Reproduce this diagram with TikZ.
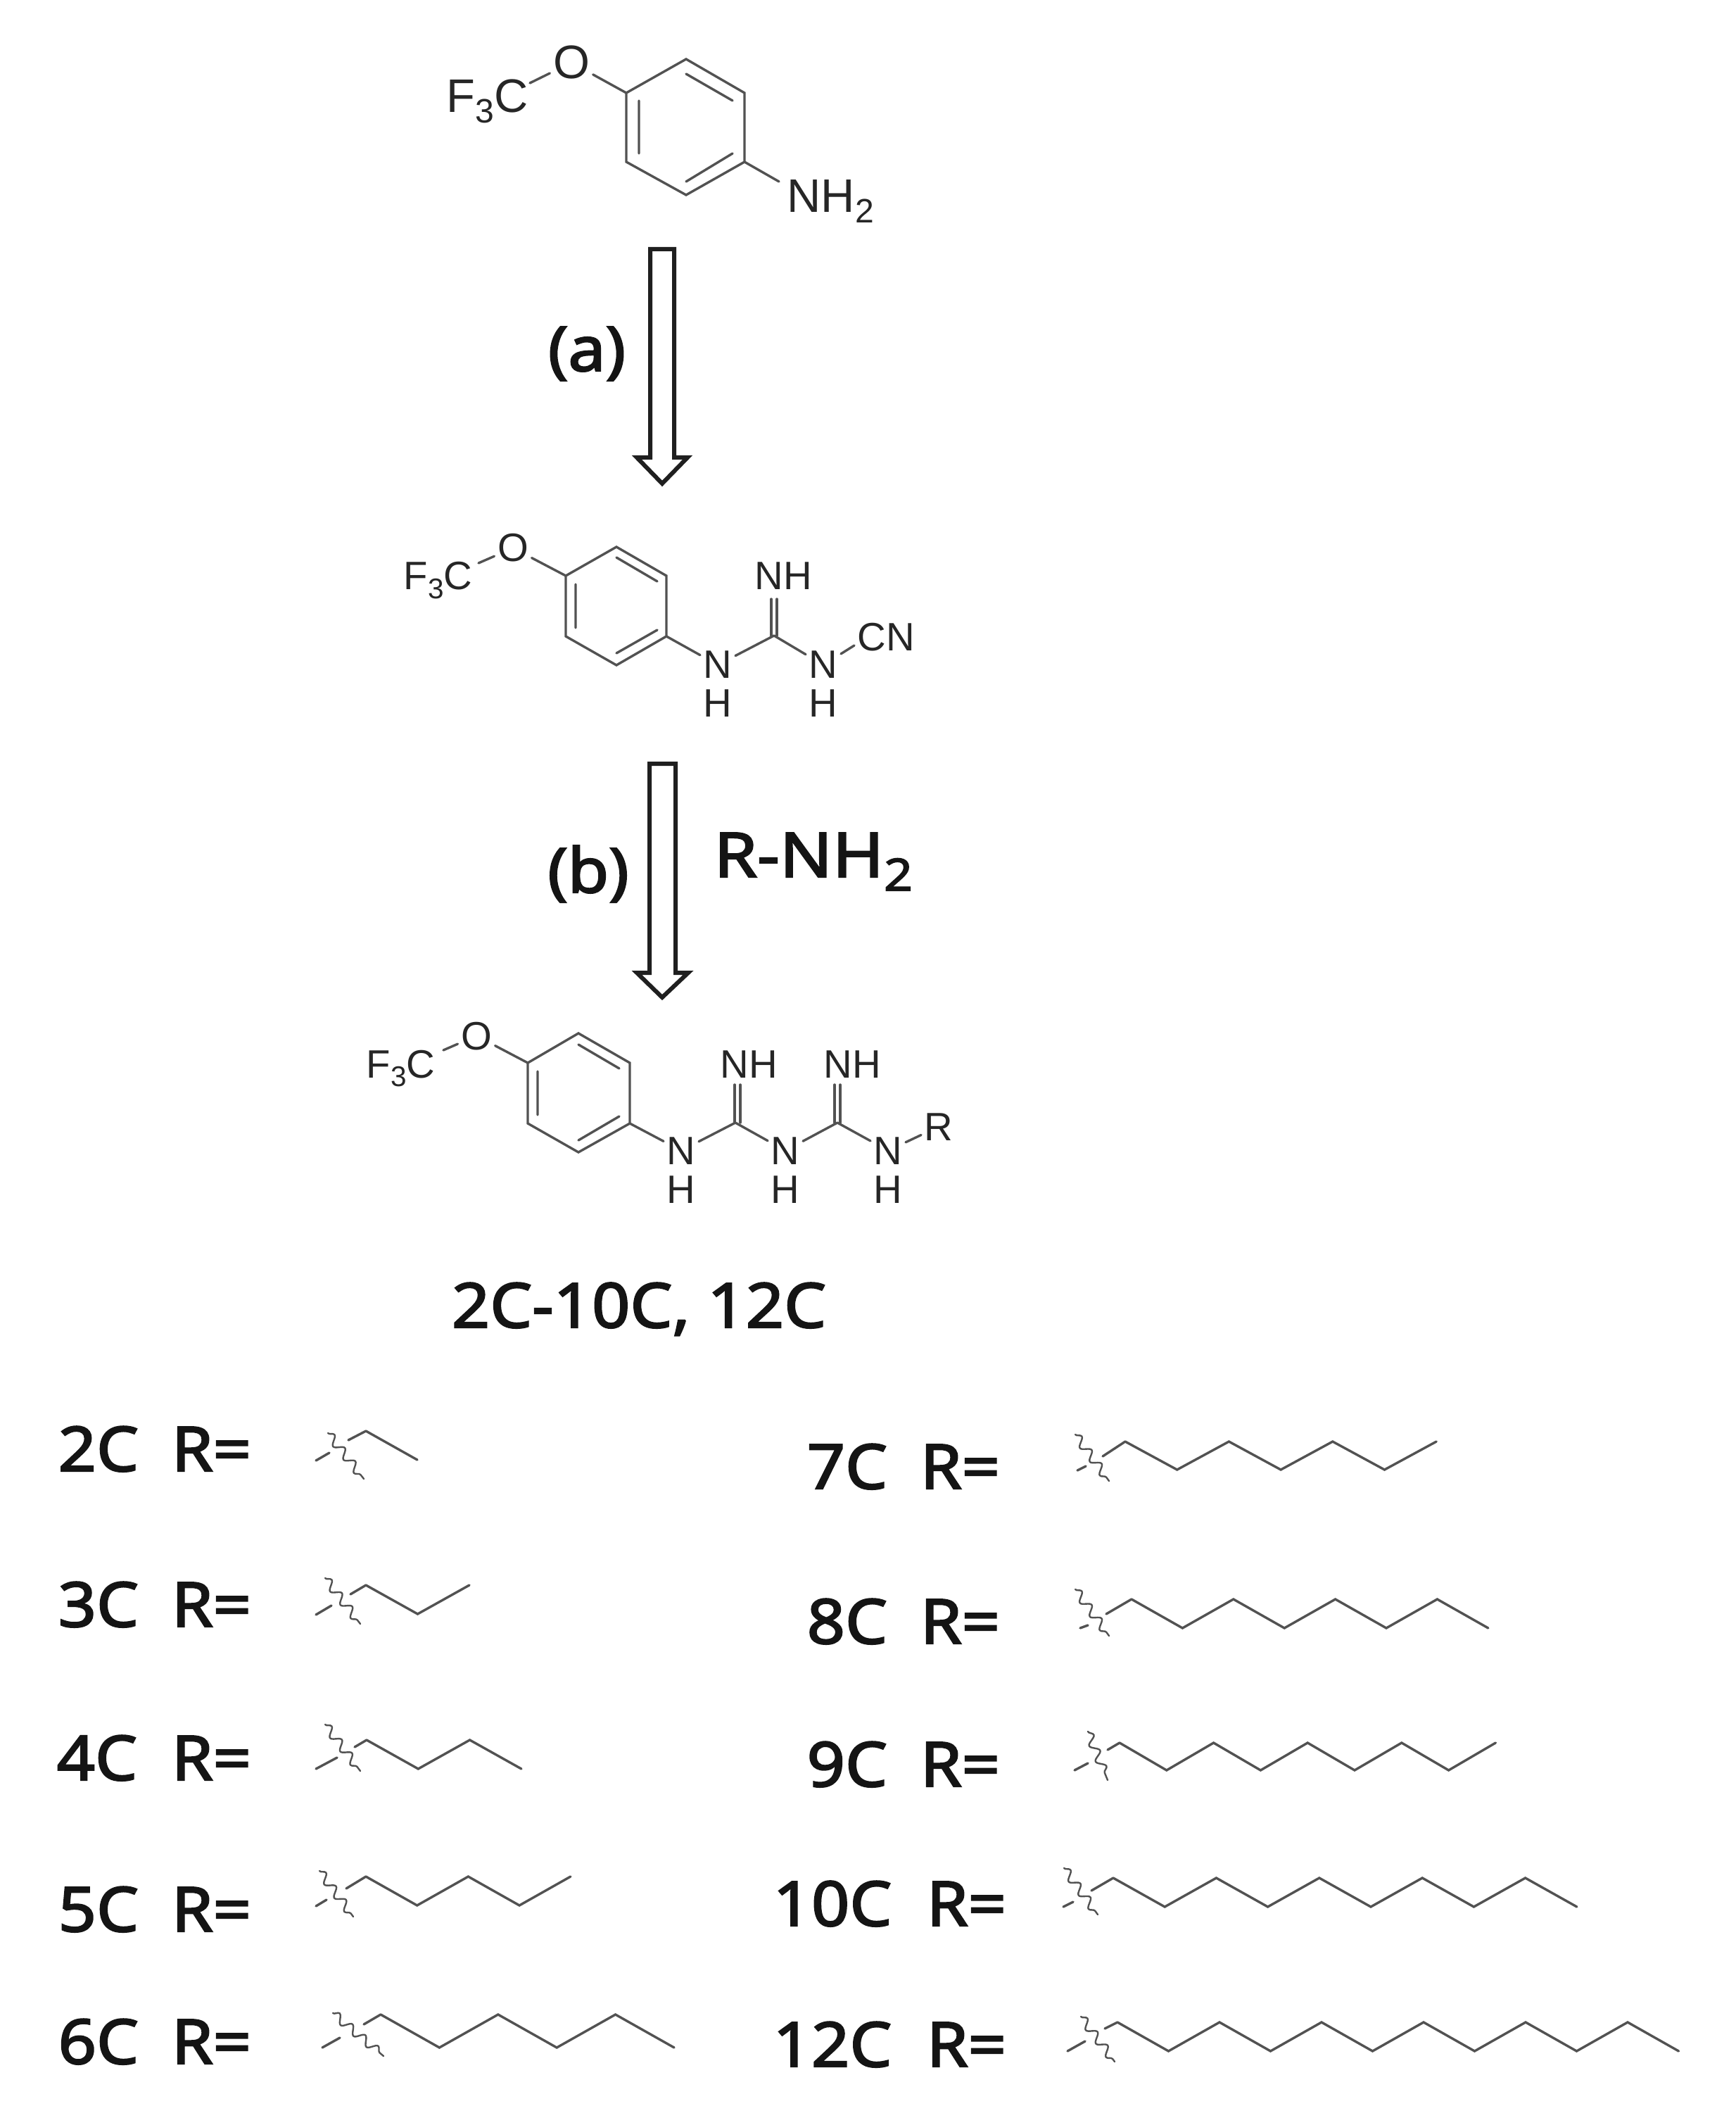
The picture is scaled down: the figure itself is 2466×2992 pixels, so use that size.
\documentclass[tikz,border=0pt]{standalone}
\usepackage{fontspec}
\setmainfont{Liberation Sans}
\newfontfamily\labfont[FakeBold=2.6,FakeStretch=1.08]{Noto Sans}
\usetikzlibrary{decorations.pathmorphing}
\newcommand{\chsub}[1]{\raisebox{-0.22em}{\scalebox{0.72}{#1}}}
\tikzset{
  bond/.style={draw=black!68,line width=0.034cm,line cap=round,line join=miter},
  wavy/.style={bond,line width=0.024cm,decorate,decoration={snake,amplitude=0.06cm,segment length=0.24cm}},
  hollow/.style={draw=black!88,line width=0.06cm,fill=white,line join=miter},
  atomA/.style={anchor=base,inner sep=0.04cm,text=black!85,font=\fontsize{19}{21}\selectfont},
  atomB/.style={anchor=base,inner sep=0.04cm,text=black!85,font=\fontsize{16}{18}\selectfont},
  lab/.style={anchor=base west,inner sep=0pt,text=black!92,font=\labfont\fontsize{25}{28}\selectfont},
}
% start x, dx, y high, y low, last index
\newcommand{\alkyl}[5]{\draw[bond] (#1,#3) \foreach \i in {1,...,#5}{ -- ({#1+\i*#2},{mod(\i,2)*#4+(1-mod(\i,2))*#3}) };}
% stub start ; stub mid end ; stub resume ; chain start ; wave path
\newcommand{\cut}[5]{\draw[bond] #1 -- #2; \draw[bond] #3 -- #4; \draw[wavy] #5;}
\begin{document}
\begin{tikzpicture}[x=0.01cm,y=-0.01cm]
\useasboundingbox (0,0) rectangle (2466,2992);
\fill[white] (0,0) rectangle (2466,2992);

% ---------- molecule 1
\coordinate (aT) at (975,84); \coordinate (aUR) at (1058,132); \coordinate (aLR) at (1058,230);
\coordinate (aB) at (975,277); \coordinate (aLL) at (890,230); \coordinate (aUL) at (890,132);
\draw[bond] (aT)--(aUR)--(aLR)--(aB)--(aLL)--(aUL)--cycle;
\draw[bond] (908,143)--(908,218) (975,105)--(1041,143) (975,258)--(1041,218);
\node[atomA] (aO) at (812,112) {O};
\node[atomA,anchor=base west,inner sep=0pt] (aF) at (634,160) {F\chsub{3}C};
\node[atomA,anchor=base west,inner sep=0pt] (aN) at (1118,302) {NH\chsub{2}};
\coordinate (aFe) at (753,118); \coordinate (aNe) at (1107,258);
\draw[bond] (aO)--(aUL) (aO)--(aFe) (aLR)--(aNe);

% ---------- arrow a
\node[lab,anchor=base] (la) at (834,527) {(a)};
\draw[hollow] (924,354)--(958,354)--(958,650)--(977,650)--(941,687)--(905,650)--(924,650)--cycle;

% ---------- molecule 2
\coordinate (bT) at (876,777); \coordinate (bUR) at (947,818); \coordinate (bLR) at (947,904);
\coordinate (bB) at (876,945); \coordinate (bLL) at (804,904); \coordinate (bUL) at (804,818);
\draw[bond] (bT)--(bUR)--(bLR)--(bB)--(bLL)--(bUL)--cycle;
\draw[bond] (818,830)--(818,892) (876,792)--(934,826) (876,928)--(934,895);
\node[atomB] (bO) at (729,798) {O};
\node[atomB,anchor=base west,inner sep=0pt] (bF) at (573,838) {F\chsub{3}C};
\coordinate (bFe) at (680,800);
\draw[bond] (bO)--(bUL) (bO)--(bFe);
\node[atomB] (bN1) at (1020,964) {N};
\node[atomB] (bH1) at (1020,1018) {H};
\node[atomB] (bN2) at (1170,964) {N};
\node[atomB] (bH2) at (1170,1018) {H};
\coordinate (bC) at (1100,903);
\node[atomB,anchor=base west,inner sep=0pt] (bCN) at (1218,925) {CN};
\node[atomB,anchor=base west,inner sep=0pt] (bNH) at (1072,838) {NH};
\coordinate (bCNe) at (1214,917);
\draw[bond] (bLR)--(bN1) (bN1)--(bC) (bC)--(bN2) (bN2)--(bCNe);
\draw[bond] (1096,851)--(1096,903) (1104,851)--(1104,903);

% ---------- arrow b
\node[lab,anchor=base] (lb) at (836,1268) {(b)};
\node[lab] (lr) at (1014,1246) {\scalebox{1.04}[1]{R-NH\chsub{2}}};
\draw[hollow] (923,1085)--(960,1085)--(960,1382)--(978,1382)--(941,1417)--(905,1382)--(923,1382)--cycle;

% ---------- molecule 3
\coordinate (cT) at (822,1468); \coordinate (cUR) at (895,1510); \coordinate (cLR) at (895,1596);
\coordinate (cB) at (822,1637); \coordinate (cLL) at (750,1596); \coordinate (cUL) at (750,1510);
\draw[bond] (cT)--(cUR)--(cLR)--(cB)--(cLL)--(cUL)--cycle;
\draw[bond] (764,1522)--(764,1584) (822,1484)--(880,1518) (822,1620)--(880,1586);
\node[atomB] (cO) at (677,1491) {O};
\node[atomB,anchor=base west,inner sep=0pt] (cF) at (520,1531) {F\chsub{3}C};
\coordinate (cFe) at (630,1492);
\draw[bond] (cO)--(cUL) (cO)--(cFe);
\node[atomB] (cN1) at (968,1654) {N}; \node[atomB] (cH1) at (968,1709) {H};
\node[atomB] (cN2) at (1116,1654) {N}; \node[atomB] (cH2) at (1116,1709) {H};
\node[atomB] (cN3) at (1262,1654) {N}; \node[atomB] (cH3) at (1262,1709) {H};
\coordinate (cC1) at (1045,1595); \coordinate (cC2) at (1190,1595);
\node[atomB] (cR) at (1334,1620) {R};
\node[atomB,anchor=base west,inner sep=0pt] (cNHa) at (1023,1531) {NH};
\node[atomB,anchor=base west,inner sep=0pt] (cNHb) at (1170,1531) {NH};
\draw[bond] (cLR)--(cN1) (cN1)--(cC1) (cC1)--(cN2) (cN2)--(cC2) (cC2)--(cN3) (cN3)--(cR);
\draw[bond] (1044,1541)--(1044,1595) (1052,1541)--(1052,1595) (1186,1541)--(1186,1595) (1194,1541)--(1194,1595);
\node[lab,anchor=base] (lall) at (908,1886) {2C-10C, 12C};

% ---------- left column
\node[lab] (l2) at (82,2090) {2C};  \node[lab] (r2) at (243,2090) {R=};
\node[lab] (l3) at (82,2311) {3C};  \node[lab] (r3) at (243,2311) {R=};
\node[lab] (l4) at (80,2529) {4C};  \node[lab] (r4) at (243,2529) {R=};
\node[lab] (l5) at (82,2744) {5C};  \node[lab] (r5) at (243,2744) {R=};
\node[lab] (l6) at (82,2932) {6C};  \node[lab] (r6) at (243,2932) {R=};

\begin{scope}[shift={(6,2)}]
\alkyl{514}{73}{2031}{2072}{1}
\cut{(443,2073)}{(462,2062)}{(489,2044)}{(514,2031)}{(460,2034)--(511,2099)}
\end{scope}
\begin{scope}[shift={(6,5)}]
\alkyl{514}{73.5}{2247}{2288}{2}
\cut{(443,2289)}{(465,2276)}{(492,2260)}{(514,2247)}{(456,2237)--(506,2302)}
\end{scope}
\begin{scope}[shift={(6,8)}]
\alkyl{515}{73.3}{2464}{2505}{3}
\cut{(443,2505)}{(473,2489)}{(498,2474)}{(515,2464)}{(456,2442)--(506,2508)}
\end{scope}
\begin{scope}[shift={(6,13)}]
\alkyl{514}{72.7}{2653}{2694}{4}
\cut{(443,2695)}{(458,2686)}{(486,2670)}{(514,2653)}{(448,2645)--(496,2710)}
\end{scope}
\begin{scope}[shift={(6,18)}]
\alkyl{535}{83.4}{2844}{2891}{5}
\cut{(452,2891)}{(477,2877)}{(511,2858)}{(535,2844)}{(467,2842)--(539,2903)}
\end{scope}

% ---------- right column
\node[lab] (l7) at (1146,2115) {7C};  \node[lab] (r7) at (1307,2115) {R=};
\node[lab] (l8) at (1146,2335) {8C};  \node[lab] (r8) at (1307,2335) {R=};
\node[lab] (l9) at (1146,2538) {9C};  \node[lab] (r9) at (1307,2538) {R=};
\node[lab] (l10) at (1098,2736) {10C}; \node[lab] (r10) at (1316,2736) {R=};
\node[lab] (l12) at (1098,2936) {12C}; \node[lab] (r12) at (1316,2936) {R=};

\begin{scope}[shift={(9,5)}]
\alkyl{1590}{73.7}{2043}{2083}{6}
\cut{(1522,2084)}{(1534,2078)}{(1558,2064)}{(1590,2043)}{(1519,2033)--(1567,2099)}
\end{scope}
\begin{scope}[shift={(9,6)}]
\alkyl{1599}{72.4}{2266}{2307}{7}
\cut{(1526,2307)}{(1537,2303)}{(1563,2287)}{(1599,2266)}{(1519,2252)--(1567,2318)}
\end{scope}
\begin{scope}[shift={(9,13)}]
\alkyl{1582}{66.8}{2463}{2502}{8}
\cut{(1518,2502)}{(1537,2492)}{(1565,2473)}{(1582,2463)}{(1537,2447)--(1565,2516)}
\end{scope}
\begin{scope}[shift={(6,11)}]
\alkyl{1576}{73.2}{2657}{2698}{9}
\cut{(1505,2698)}{(1519,2691)}{(1545,2675)}{(1576,2657)}{(1506,2643)--(1554,2709)}
\end{scope}
\begin{scope}[shift={(12,15)}]
\alkyl{1576}{72.5}{2858}{2899}{11}
\cut{(1505,2899)}{(1530,2885)}{(1558,2867)}{(1576,2858)}{(1524,2850)--(1572,2914)}
\end{scope}
\end{tikzpicture}
\end{document}
